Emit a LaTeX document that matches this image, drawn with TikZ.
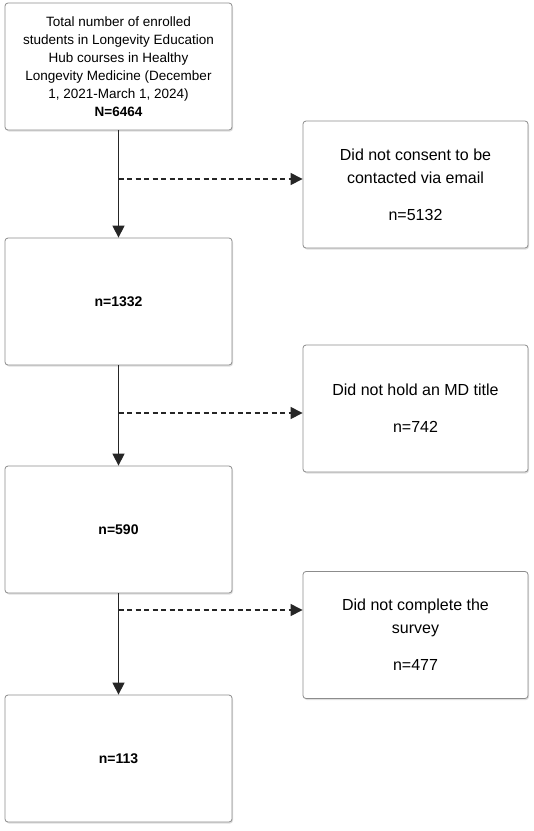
\documentclass[tikz,border=0pt]{standalone}
\usepackage{fontspec}
\setmainfont{Liberation Sans}
\usetikzlibrary{arrows.meta,shadows}
\begin{document}
\begin{tikzpicture}[x=1pt,y=-1pt,
  box/.style={draw=black!45, line width=0.8pt, rounded corners=3pt, fill=white,
    drop shadow={shadow xshift=1pt, shadow yshift=-1.5pt, opacity=0.25},
    minimum width=227pt, minimum height=127pt, align=center, inner sep=2pt},
  sidebox/.style={box, minimum width=225pt, minimum height=127pt},
  flow/.style={draw=black!85, line width=1.3pt, -{Triangle[length=12pt,width=12pt]}},
  excl/.style={draw=black!85, line width=1.1pt, dash pattern=on 5pt off 3.5pt, -{Triangle[length=12pt,width=12pt]}}]
\useasboundingbox (0,0) rectangle (534,831);
\fill[white] (0,0) rectangle (534,831);
\node[box, font=\fontsize{13.5}{18}\selectfont] (b1) at (118.5,66.5) {Total number of enrolled\\students in Longevity Education\\Hub courses in Healthy\\Longevity Medicine (December\\1, 2021-March 1, 2024)\\\textbf{N=6464}};
\node[box, font=\fontsize{14}{16}\selectfont\bfseries] (b2) at (118.5,301.5) {n=1332};
\node[box, font=\fontsize{14}{16}\selectfont\bfseries] (b3) at (118.5,529.5) {n=590};
\node[box, font=\fontsize{14}{16}\selectfont\bfseries] (b4) at (118.5,758.5) {n=113};
\node[sidebox, font=\fontsize{16}{23}\selectfont] (sA) at (415.5,184.5) {Did not consent to be\\contacted via email\\[14pt]n=5132};
\node[sidebox, font=\fontsize{16}{23}\selectfont] (sB) at (415.5,408.5) {Did not hold an MD title\\[14pt]n=742};
\node[sidebox, font=\fontsize{16}{23}\selectfont] (sC) at (415.5,635) {Did not complete the\\survey\\[14pt]n=477};
\coordinate (j1) at (118.5,179);
\coordinate (j2) at (118.5,413);
\coordinate (j3) at (118.5,610);
\draw[flow] (b1.south) -- (b2.north);
\draw[flow] (b2.south) -- (b3.north);
\draw[flow] (b3.south) -- (b4.north);
\draw[excl] (j1) -- (j1 -| sA.west);
\draw[excl] (j2) -- (j2 -| sB.west);
\draw[excl] (j3) -- (j3 -| sC.west);
\end{tikzpicture}
\end{document}
